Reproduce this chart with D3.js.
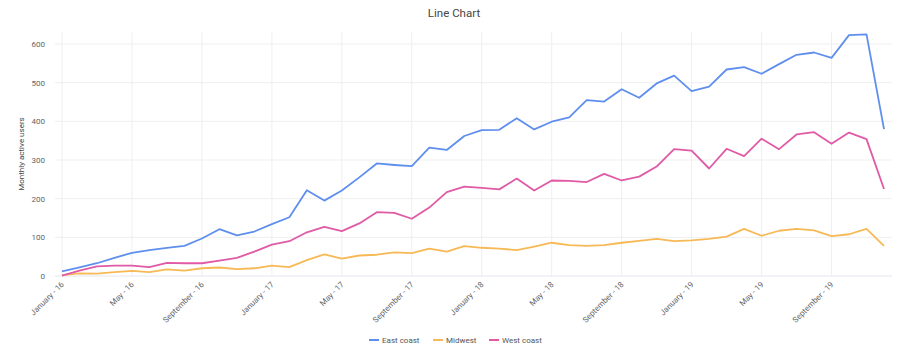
<!DOCTYPE html>
<html>
<head>
<meta charset="utf-8">
<script src="https://cdn.jsdelivr.net/npm/d3@7"></script>
<style>
  body { margin: 0; background: #fff; font-family: Roboto, "Noto Sans", sans-serif; }
</style>
</head>
<body>
<div id="chart"></div>
<script>
// months on the x axis (one point per month)
var months = [
  "2016-01","2016-02","2016-03","2016-04","2016-05","2016-06","2016-07","2016-08","2016-09","2016-10","2016-11","2016-12",
  "2017-01","2017-02","2017-03","2017-04","2017-05","2017-06","2017-07","2017-08","2017-09","2017-10","2017-11","2017-12",
  "2018-01","2018-02","2018-03","2018-04","2018-05","2018-06","2018-07","2018-08","2018-09","2018-10","2018-11","2018-12",
  "2019-01","2019-02","2019-03","2019-04","2019-05","2019-06","2019-07","2019-08","2019-09","2019-10","2019-11","2019-12"
];

var eastCoast = [12, 22, 33, 47, 60, 67, 73, 78, 97, 121, 105, 115,
                 134, 152, 222, 195, 221, 255, 291, 287, 284, 332, 326, 362,
                 377, 378, 408, 379, 399, 410, 455, 451, 483, 461, 498, 518,
                 478, 490, 534, 540, 523, 548, 572, 578, 564, 623, 625, 380];

var midwest   = [2, 7, 6, 10, 13, 10, 17, 14, 20, 22, 18, 20,
                 27, 23, 41, 56, 45, 53, 55, 61, 59, 71, 63, 77,
                 73, 71, 67, 76, 86, 80, 78, 80, 86, 91, 96, 90,
                 92, 96, 102, 122, 104, 117, 122, 118, 103, 108, 122, 78];

var westCoast = [1, 14, 25, 27, 27, 23, 34, 33, 33, 40, 47, 63,
                 81, 90, 113, 127, 116, 136, 165, 163, 148, 177, 217, 231,
                 228, 224, 252, 221, 247, 246, 243, 264, 247, 257, 283, 328,
                 324, 278, 329, 310, 355, 328, 366, 372, 342, 371, 354, 225];

var seriesNames  = ["East coast", "Midwest", "West coast"];
var seriesColors = ["#5f8fee", "#f7b955", "#e05aa5"];

// tick labels on the x axis
var tickMonths = ["2016-01","2016-05","2016-09","2017-01","2017-05","2017-09",
                  "2018-01","2018-05","2018-09","2019-01","2019-05","2019-09"];
var tickLabels = ["January - 16","May - 16","September - 16","January - 17","May - 17","September - 17",
                  "January - 18","May - 18","September - 18","January - 19","May - 19","September - 19"];

var yTicks = [0, 100, 200, 300, 400, 500, 600];

// --------------------------------------------------------------------------------
const chart_width = 906, chart_height = 354;
var plot = { left: 62, right: 884, top: 32, bottom: 276 };

var svg = d3.select("#chart")
  .append("svg")
  .attr("width", chart_width)
  .attr("height", chart_height);

// scales
const x_scale = d3.scalePoint()
  .domain(months)
  .range([plot.left, plot.right]);

const y_scale = d3.scaleLinear()
  .domain([0, 631])
  .range([plot.bottom, plot.top]);

// title
svg.append("text")
  .attr("x", 454)
  .attr("y", 17)
  .attr("text-anchor", "middle")
  .attr("font-size", 11.5)
  .attr("fill", "#444")
  .text("Line Chart");

// gridlines
svg.append("g")
  .selectAll("line")
  .data(yTicks)
  .enter()
  .append("line")
  .attr("x1", 55)
  .attr("x2", 892)
  .attr("y1", d => y_scale(d))
  .attr("y2", d => y_scale(d))
  .attr("stroke", d => d === 0 ? "#e3e6ec" : "#efefef")
  .attr("stroke-width", 1);

svg.append("g")
  .selectAll("line")
  .data(tickMonths)
  .enter()
  .append("line")
  .attr("x1", d => x_scale(d))
  .attr("x2", d => x_scale(d))
  .attr("y1", plot.top)
  .attr("y2", plot.bottom)
  .attr("stroke", "#efefef")
  .attr("stroke-width", 1);

// y axis
var y_axis = d3.axisLeft(y_scale)
  .tickValues(yTicks)
  .tickSize(0)
  .tickPadding(0);

svg.append("g")
  .attr("transform", "translate(45,0)")
  .call(y_axis)
  .call(g => g.select(".domain").remove())
  .selectAll("text")
  .attr("font-family", "Roboto, sans-serif")
  .attr("font-size", 8)
  .attr("fill", "#5f6368");

// x axis
var x_axis = d3.axisBottom(x_scale)
  .tickValues(tickMonths)
  .tickFormat((d, i) => tickLabels[i])
  .tickSize(0);

svg.append("g")
  .attr("transform", "translate(0," + plot.bottom + ")")
  .call(x_axis)
  .call(g => g.select(".domain").remove())
  .selectAll("text")
  .attr("font-family", "Roboto, sans-serif")
  .attr("font-size", 8)
  .attr("fill", "#5f6368")
  .attr("text-anchor", "end")
  .attr("dy", 0)
  .attr("transform", "translate(2,9) rotate(-45)")
  .attr("y", 0);

// y axis title
svg.append("text")
  .attr("transform", "translate(24,154) rotate(-90)")
  .attr("text-anchor", "middle")
  .attr("font-size", 8)
  .attr("fill", "#444")
  .text("Monthly active users");

// lines
var line = d3.line()
  .x((d, i) => x_scale(months[i]))
  .y(d => y_scale(d));

var allSeries = [eastCoast, midwest, westCoast];

svg.append("g")
  .selectAll("path")
  .data(allSeries)
  .enter()
  .append("path")
  .attr("d", d => line(d))
  .attr("fill", "none")
  .attr("stroke", (d, i) => seriesColors[i])
  .attr("stroke-width", 1.8)
  .attr("stroke-linejoin", "round");

// legend
var legendX = [369, 433, 489];
var legend = svg.append("g")
  .selectAll("g")
  .data(seriesNames)
  .enter()
  .append("g")
  .attr("transform", (d, i) => "translate(" + legendX[i] + ",340)");

legend.append("line")
  .attr("x1", 0)
  .attr("x2", 10)
  .attr("y1", 0)
  .attr("y2", 0)
  .attr("stroke", (d, i) => seriesColors[i])
  .attr("stroke-width", 2);

legend.append("text")
  .attr("x", 13)
  .attr("y", 3)
  .attr("font-size", 8)
  .attr("fill", "#555")
  .text(d => d);
</script>
</body>
</html>
